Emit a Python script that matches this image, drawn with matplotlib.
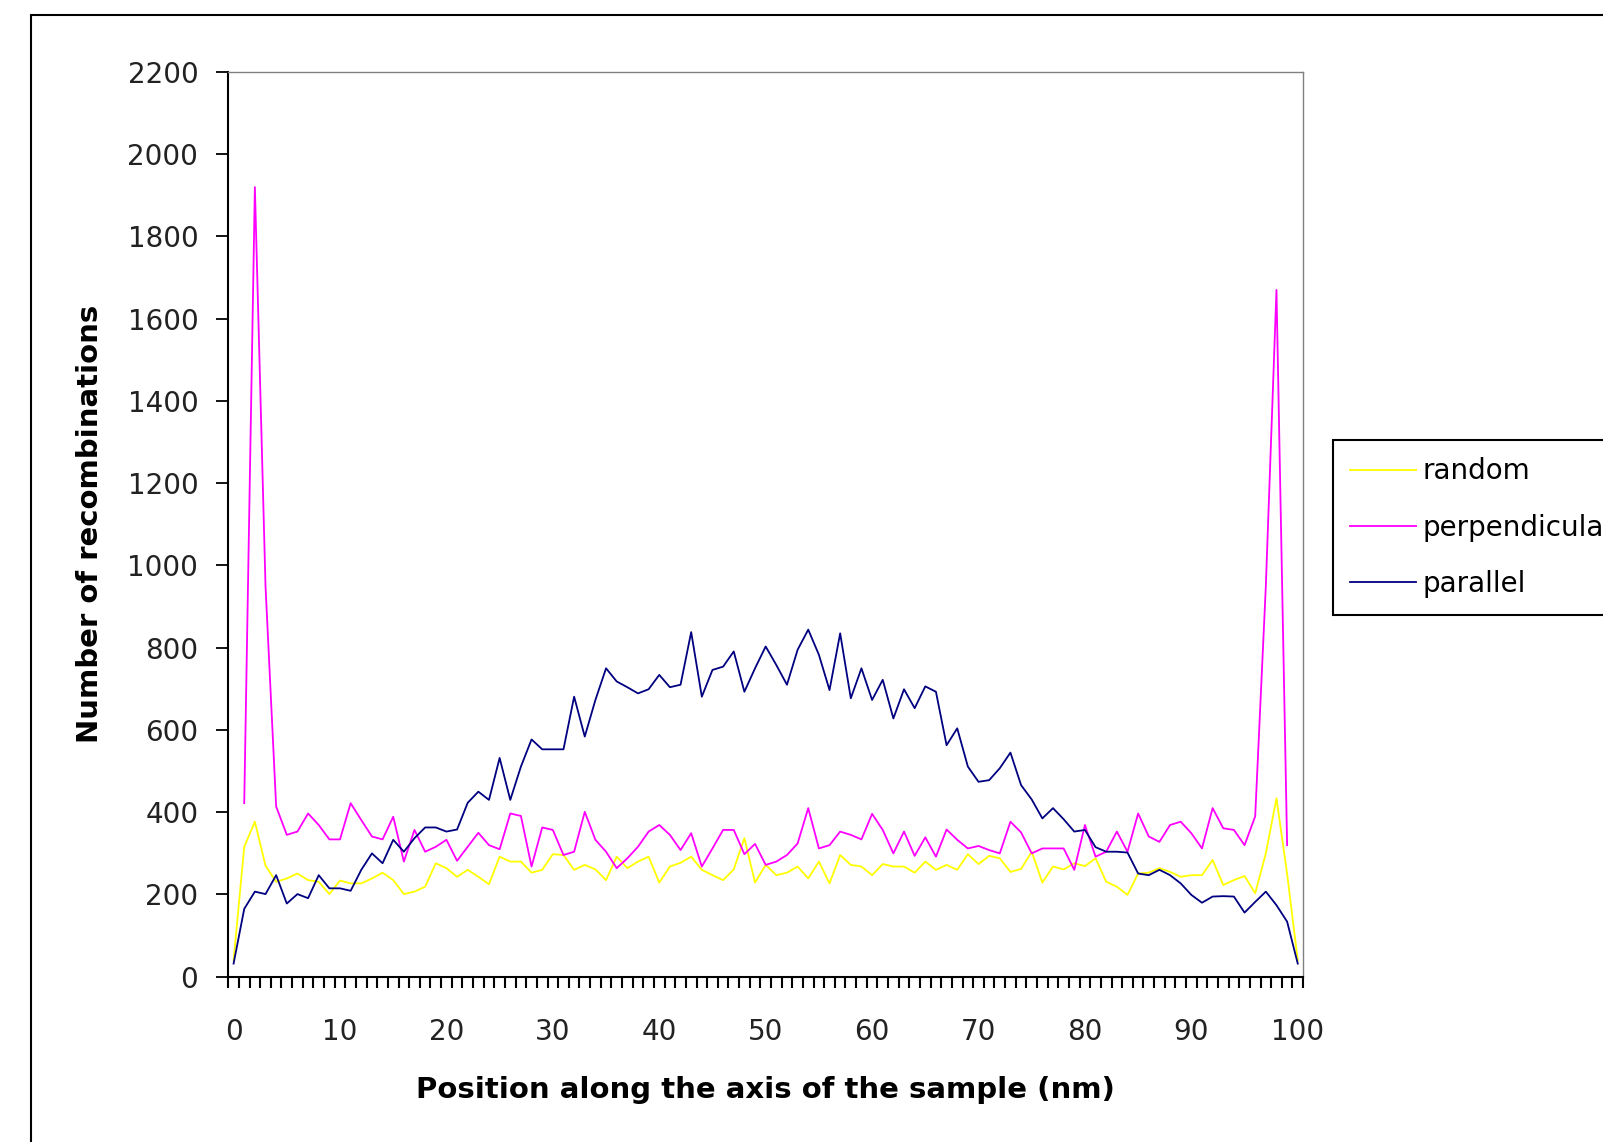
import matplotlib.pyplot as plt
import numpy as np
from matplotlib.patches import Rectangle

# position along the sample (nm), one point per category
positions = list(range(101))

random_vals = [
    40, 316, 377, 270, 231, 239, 251, 235, 231, 201,
    234, 227, 227, 239, 253, 235, 201, 207, 219, 276,
    264, 243, 260, 243, 225, 292, 280, 280, 253, 260,
    298, 296, 260, 272, 261, 235, 292, 264, 280, 292,
    229, 268, 277, 292, 260, 247, 235, 261, 337, 229,
    272, 247, 253, 268, 239, 280, 227, 296, 272, 268,
    247, 274, 268, 268, 253, 280, 260, 272, 260, 298,
    274, 294, 288, 255, 262, 304, 229, 268, 261, 276,
    269, 288, 231, 219, 199, 251, 253, 264, 255, 243,
    247, 247, 284, 223, 235, 245, 203, 300, 434, 250,
    40,
]

perpendicular_vals = [
    np.nan, 422, 1920, 950, 414, 345, 353, 397, 369, 334,
    334, 422, 381, 341, 334, 389, 280, 357, 304, 316,
    333, 282, 316, 350, 320, 310, 397, 391, 268, 363,
    357, 296, 304, 401, 333, 304, 264, 288, 316, 353,
    369, 345, 308, 349, 268, 312, 357, 357, 298, 323,
    272, 280, 296, 324, 410, 312, 320, 353, 345, 334,
    396, 357, 300, 353, 294, 339, 292, 358, 333, 312,
    318, 308, 300, 377, 351, 300, 312, 312, 312, 260,
    369, 292, 304, 353, 304, 397, 341, 328, 369, 377,
    349, 312, 410, 361, 357, 320, 390, 950, 1670, 320,
    np.nan,
]

parallel_vals = [
    32, 165, 207, 201, 247, 178, 201, 191, 247, 215,
    215, 209, 260, 300, 276, 333, 304, 337, 363, 363,
    353, 358, 423, 450, 430, 532, 430, 511, 577, 553,
    553, 553, 681, 584, 673, 750, 718, 704, 689, 699,
    734, 704, 710, 838, 681, 746, 754, 791, 693, 750,
    803, 758, 710, 795, 844, 783, 697, 835, 677, 750,
    673, 722, 628, 699, 653, 706, 693, 563, 604, 511,
    474, 478, 507, 545, 466, 431, 385, 410, 383, 353,
    357, 315, 304, 304, 302, 251, 247, 260, 247, 227,
    199, 180, 195, 196, 195, 156, 182, 207, 174, 134,
    32,
]

y_ticks = list(range(0, 2201, 200))
x_labels = list(range(0, 101, 10))


def main():
    plt.rcParams["font.family"] = ["DejaVu Sans"]

    fig = plt.figure(figsize=(16.03, 11.42), dpi=100)
    ax = fig.add_axes([0.1424, 0.1447, 0.6705, 0.7923])

    ax.plot(positions, random_vals, color="#ffff00", lw=1.3, label="random")
    ax.plot(positions, perpendicular_vals, color="#ff00ff", lw=1.3,
            label="perpendicular")
    ax.plot(positions, parallel_vals, color="#000080", lw=1.3,
            label="parallel")

    ax.set_xlim(-0.5, 100.5)
    ax.set_ylim(0, 2200)

    # labels sit on the categories, tick marks between them
    ax.set_xticks(x_labels)
    ax.set_xticks(np.arange(-0.5, 101, 1), minor=True)
    ax.tick_params(axis="x", which="major", length=0, pad=30,
                   labelsize=20, labelcolor="#222222")
    ax.tick_params(axis="x", which="minor", length=8, width=1.5,
                   direction="out")
    ax.set_yticks(y_ticks)
    ax.tick_params(axis="y", length=8.6, width=1.3, pad=13,
                   labelsize=20, labelcolor="#222222")

    for side in ("top", "right"):
        ax.spines[side].set_color("#808080")
        ax.spines[side].set_linewidth(1.0)
    for side in ("left", "bottom"):
        ax.spines[side].set_linewidth(1.5)

    ax.set_xlabel("Position along the axis of the sample (nm)",
                  fontsize=21, fontweight="bold", va="center")
    ax.xaxis.set_label_coords(0.5, -0.125)
    ax.set_ylabel("Number of recombinations", fontsize=21,
                  fontweight="bold", va="center")
    ax.yaxis.set_label_coords(-0.129, 0.5)

    # legend runs off the right edge, as in the original
    leg = ax.legend(loc="upper left", bbox_to_anchor=(0.8316, 0.6147),
                    bbox_transform=fig.transFigure, fontsize=20,
                    fancybox=False, edgecolor="black", framealpha=1,
                    handlelength=2.35, handletextpad=0.25,
                    labelspacing=1.02, borderpad=0.62, borderaxespad=0)
    leg.get_frame().set_linewidth(1.5)

    # chart area frame, running off the right and bottom edges
    fig.patches.append(Rectangle((0.0192, -0.1), 1.2, 1.0866,
                                 transform=fig.transFigure, fill=False,
                                 edgecolor="black", linewidth=1.5))

    fig.savefig("out.png", dpi=100)


if __name__ == "__main__":
    main()
